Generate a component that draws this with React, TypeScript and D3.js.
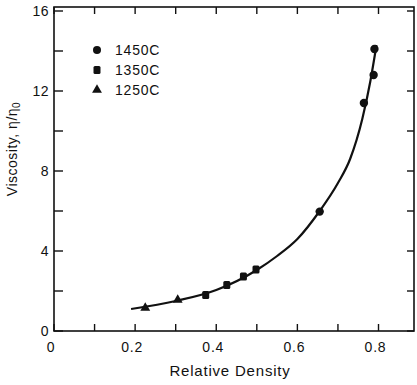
import React from "react";
import * as d3 from "d3";

const xTickLabels = ["0", "0.2", "0.4", "0.6", "0.8"];
const xTickValues = [0, 0.2, 0.4, 0.6, 0.8];
const xMinorTicks = [0.1, 0.3, 0.5, 0.7];
const yTickValues = [0, 4, 8, 12, 16];
const yMinorTicks = [2, 6, 10, 14];

const series = ["1450C", "1350C", "1250C"];
const d1450 = [
  [0.655, 5.97],
  [0.764, 11.4],
  [0.788, 12.8],
  [0.79, 14.1],
];
const d1350 = [
  [0.374, 1.8],
  [0.426, 2.3],
  [0.467, 2.72],
  [0.498, 3.08],
];
const d1250 = [
  [0.225, 1.15],
  [0.305, 1.55],
];
const fitX = [0.19, 0.3, 0.4, 0.5, 0.55, 0.6, 0.655, 0.7, 0.73, 0.76, 0.78, 0.795];
const fitY = [1.1, 1.5, 2.05, 3.05, 3.75, 4.6, 6.0, 7.4, 8.6, 10.6, 12.5, 14.3];

const W = 417;
const H = 385;
const L = 54, R = 414, T = 7, B = 331;

export default function App() {
  const x = d3.scaleLinear().domain([0, 0.8875]).range([L, R]);
  const y = d3.scaleLinear().domain([0, 16.2]).range([B, T]);
  const font = "'Liberation Sans', Arial, sans-serif";
  const line = d3
    .line<number>()
    .x((_, i) => x(fitX[i]))
    .y((_, i) => y(fitY[i]))
    .curve(d3.curveMonotoneX);
  const tri = d3.symbol().type(d3.symbolTriangle).size(42)();
  const sq = (cx: number, cy: number, k: string) => (
    <rect key={k} x={cx - 3.5} y={cy - 4} width={7} height={8} rx={1.5} fill="#111" />
  );
  const allX = [...xTickValues, ...xMinorTicks];
  const allY = [...yTickValues, ...yMinorTicks];
  return (
    <svg
      width={W}
      height={H}
      style={{ position: "absolute", left: 0, top: 0, background: "#fff" }}
      fontFamily={font}
    >
      <rect x={L} y={T} width={R - L} height={B - T} fill="none" stroke="#111" strokeWidth={1.6} />
      {allX.map((v, i) => (
        <g key={"xt" + i}>
          <line x1={x(v)} x2={x(v)} y1={B} y2={B - 7} stroke="#111" strokeWidth={1.4} />
          <line x1={x(v)} x2={x(v)} y1={T} y2={T + 7} stroke="#111" strokeWidth={1.4} />
        </g>
      ))}
      {allY.map((v, i) => (
        <g key={"yt" + i}>
          <line x1={L} x2={L + 9} y1={y(v)} y2={y(v)} stroke="#111" strokeWidth={1.4} />
          <line x1={R} x2={R - 7} y1={y(v)} y2={y(v)} stroke="#111" strokeWidth={1.4} />
        </g>
      ))}
      {xTickValues.map((v, i) => (
        <text key={"xl" + i} x={x(v) - 3} y={B + 21} fontSize={14} letterSpacing={0.8} textAnchor="middle" fill="#111">
          {xTickLabels[i]}
        </text>
      ))}
      {yTickValues.map((v, i) => (
        <text key={"yl" + i} x={L - 5} y={y(v) + 5} fontSize={14} letterSpacing={0.5} textAnchor="end" fill="#111">
          {String(v)}
        </text>
      ))}
      <text x={230} y={376} fontSize={15} letterSpacing={0.8} textAnchor="middle" fill="#111">
        Relative Density
      </text>
      <text
        transform={`translate(17,149) rotate(-90)`}
        fontSize={14}
        letterSpacing={0.5}
        textAnchor="middle"
        fill="#111"
      >
        Viscosity, η/η<tspan fontSize={10} dy={3}>0</tspan>
      </text>
      <path d={line(fitX) || ""} fill="none" stroke="#111" strokeWidth={2.2} />
      {d1450.map((p, i) => (
        <circle key={"c" + i} cx={x(p[0])} cy={y(p[1])} r={4.2} fill="#111" />
      ))}
      {d1350.map((p, i) => sq(x(p[0]), y(p[1]), "s" + i))}
      {d1250.map((p, i) => (
        <path key={"t" + i} d={tri || ""} transform={`translate(${x(p[0])},${y(p[1])})`} fill="#111" />
      ))}
      {/* legend */}
      <circle cx={97} cy={50} r={4} fill="#111" />
      {sq(97, 70, "ls")}
      <path d={tri || ""} transform="translate(97,90)" fill="#111" />
      {series.map((s, i) => (
        <text key={"lg" + i} x={115} y={55 + i * 20} fontSize={14} letterSpacing={0.8} fill="#111">
          {s}
        </text>
      ))}
    </svg>
  );
}
